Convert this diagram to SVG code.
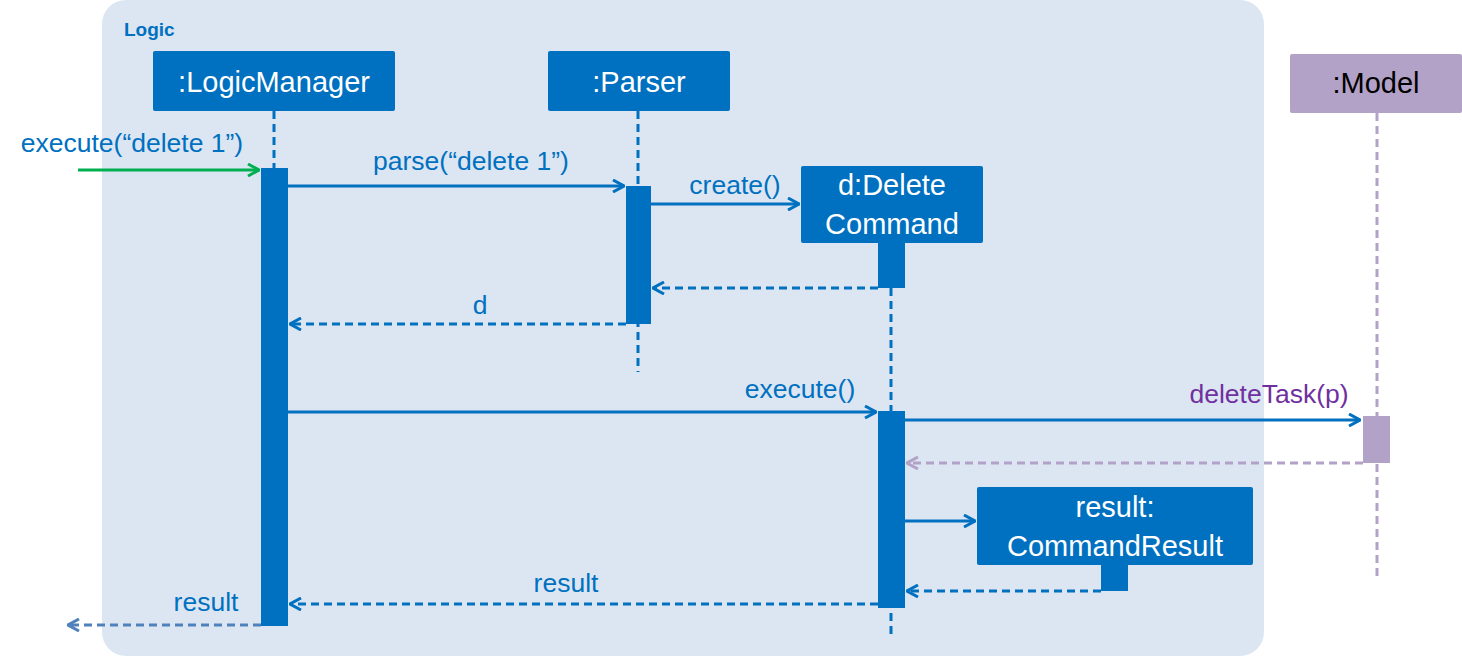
<svg xmlns="http://www.w3.org/2000/svg" width="1462" height="656" viewBox="0 0 1462 656">
  <style>
    .box { fill: #0070C0; }
    .boxM { fill: #B3A2C7; }
    .bt { font-family: "Liberation Sans", Arial, sans-serif; font-size: 29px; fill: #FFFFFF; text-anchor: middle; }
    .btM { font-family: "Liberation Sans", Arial, sans-serif; font-size: 29px; fill: #000000; text-anchor: middle; }
    .lbl { font-family: "Liberation Sans", Arial, sans-serif; font-size: 26.5px; fill: #0070C0; text-anchor: middle; }
    .life { stroke: #0070C0; stroke-width: 3; stroke-dasharray: 8 5; fill: none; }
    .lifeM { stroke: #B3A2C7; stroke-width: 3; stroke-dasharray: 8 5; fill: none; }
    .call { stroke: #0070C0; stroke-width: 3; fill: none; marker-end: url(#open); }
    .ret { stroke: #0070C0; stroke-width: 3; stroke-dasharray: 8 5; fill: none; marker-end: url(#open); }
  </style>
  <defs>
    <marker id="open" viewBox="0 0 14 14" refX="13" refY="7" markerWidth="14" markerHeight="14" markerUnits="userSpaceOnUse" orient="auto">
      <polyline points="2,1 13,7 2,13" fill="none" stroke="#0070C0" stroke-width="3"/>
    </marker>
    <marker id="openG" viewBox="0 0 14 14" refX="13" refY="7" markerWidth="14" markerHeight="14" markerUnits="userSpaceOnUse" orient="auto">
      <polyline points="2,1 13,7 2,13" fill="none" stroke="#00B050" stroke-width="3"/>
    </marker>
    <marker id="openM" viewBox="0 0 14 14" refX="13" refY="7" markerWidth="14" markerHeight="14" markerUnits="userSpaceOnUse" orient="auto">
      <polyline points="2,1 13,7 2,13" fill="none" stroke="#B3A2C7" stroke-width="3"/>
    </marker>
    <marker id="openL" viewBox="0 0 14 14" refX="13" refY="7" markerWidth="14" markerHeight="14" markerUnits="userSpaceOnUse" orient="auto">
      <polyline points="2,1 13,7 2,13" fill="none" stroke="#4F81BD" stroke-width="3"/>
    </marker>
  </defs>

  <rect x="0" y="0" width="1462" height="656" fill="#FFFFFF"/>

  <!-- Logic component frame -->
  <g id="logic-frame">
    <rect x="102" y="0" width="1162" height="656" rx="24" fill="#DCE6F2"/>
    <text x="124" y="36" font-family="Liberation Sans, Arial, sans-serif" font-size="19" font-weight="bold" fill="#0070C0">Logic</text>
  </g>

  <!-- lifelines -->
  <g id="lifelines">
    <line class="life" x1="274" y1="111" x2="274" y2="168"/>
    <line class="life" x1="638" y1="111" x2="638" y2="372"/>
    <line class="life" x1="891" y1="288" x2="891" y2="638"/>
    <line class="lifeM" x1="1377" y1="113" x2="1377" y2="576"/>
  </g>

  <!-- participants and activations -->
  <g id="logicmanager">
    <rect class="box" x="153" y="51" width="242" height="60" rx="2"/>
    <text class="bt" x="274" y="92">:LogicManager</text>
    <rect class="box" x="261" y="168" width="27" height="458"/>
  </g>

  <g id="parser">
    <rect class="box" x="548" y="51" width="182" height="60" rx="2"/>
    <text class="bt" x="639" y="92">:Parser</text>
    <rect class="box" x="626" y="186" width="25" height="138"/>
  </g>

  <g id="deletecommand">
    <rect class="box" x="801" y="166" width="182" height="77" rx="2"/>
    <text class="bt" x="892" y="195">d:Delete</text>
    <text class="bt" x="892" y="234">Command</text>
    <rect class="box" x="878" y="243" width="27" height="45"/>
    <rect class="box" x="878" y="411" width="27" height="197"/>
  </g>

  <g id="model">
    <rect class="boxM" x="1290" y="54" width="172" height="59" rx="2"/>
    <text class="btM" x="1376" y="93">:Model</text>
    <rect class="boxM" x="1363" y="416" width="27" height="47"/>
  </g>

  <g id="commandresult">
    <rect class="box" x="977" y="487" width="276" height="78" rx="2"/>
    <text class="bt" x="1115" y="517">result:</text>
    <text class="bt" x="1115" y="556">CommandResult</text>
    <rect class="box" x="1101" y="565" width="27" height="26"/>
  </g>

  <!-- messages -->
  <g id="connectors">
    <line x1="78" y1="170" x2="259" y2="170" stroke="#00B050" stroke-width="3" marker-end="url(#openG)"/>
    <line class="call" x1="288" y1="186" x2="624" y2="186"/>
    <line class="call" x1="651" y1="204" x2="799" y2="204"/>
    <line class="ret" x1="878" y1="288" x2="653" y2="288"/>
    <line class="ret" x1="626" y1="324" x2="290" y2="324"/>
    <line class="call" x1="288" y1="412" x2="876" y2="412"/>
    <line class="call" x1="905" y1="420" x2="1360" y2="420"/>
    <line x1="1363" y1="463" x2="907" y2="463" stroke="#B3A2C7" stroke-width="3" stroke-dasharray="8 5" marker-end="url(#openM)"/>
    <line class="call" x1="905" y1="521" x2="975" y2="521"/>
    <line class="ret" x1="1101" y1="591" x2="907" y2="591"/>
    <line class="ret" x1="878" y1="604" x2="290" y2="604"/>
    <line x1="261" y1="625" x2="68" y2="625" stroke="#4F81BD" stroke-width="3" stroke-dasharray="8 5" marker-end="url(#openL)"/>
  </g>

  <!-- message labels -->
  <g id="labels">
    <text class="lbl" x="132" y="152">execute(“delete 1”)</text>
    <text class="lbl" x="471" y="170">parse(“delete 1”)</text>
    <text class="lbl" x="735" y="194">create()</text>
    <text class="lbl" x="480" y="314">d</text>
    <text class="lbl" x="800" y="398">execute()</text>
    <text class="lbl" x="1269" y="403" style="fill:#7030A0">deleteTask(p)</text>
    <text class="lbl" x="566" y="592">result</text>
    <text class="lbl" x="206" y="611">result</text>
  </g>
</svg>
